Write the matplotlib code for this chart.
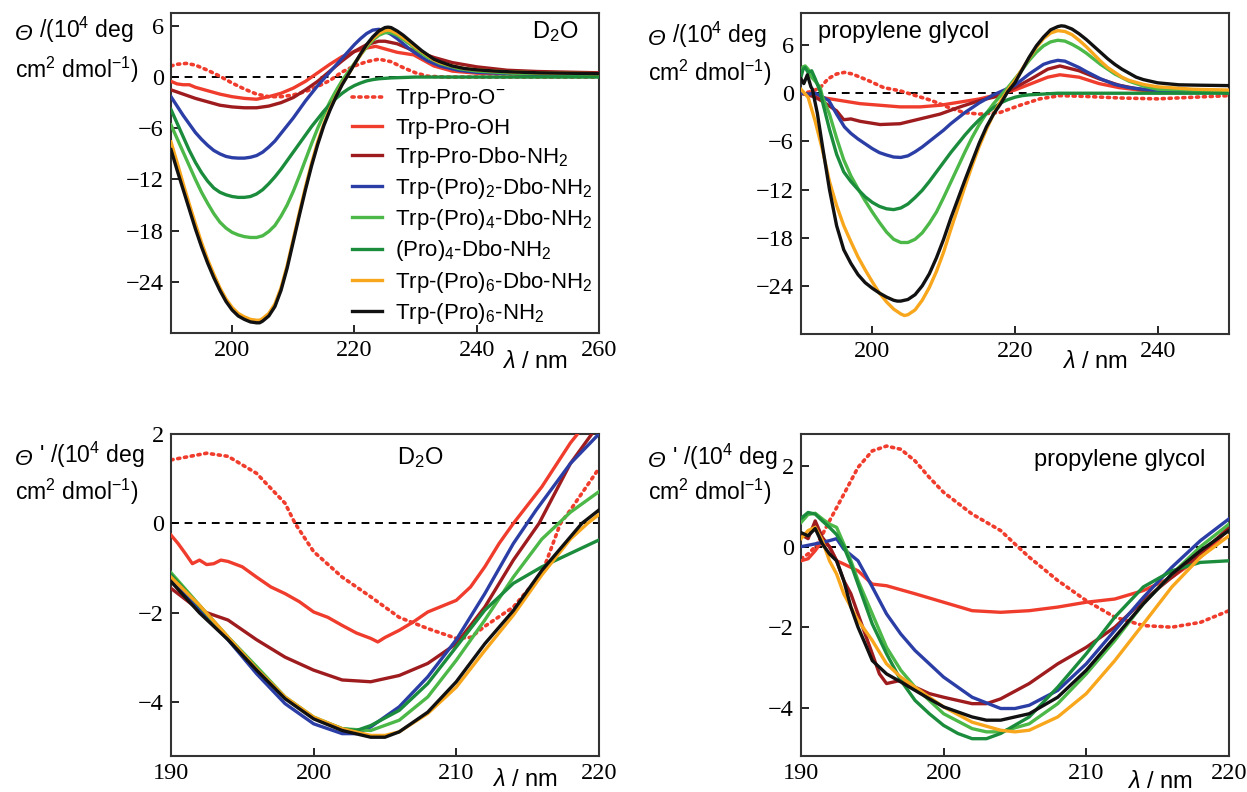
import numpy as np
import matplotlib
matplotlib.use("Agg")
import matplotlib.pyplot as plt

plt.rcParams['font.family'] = ['Liberation Sans', 'DejaVu Sans']
plt.rcParams['mathtext.fontset'] = 'custom'
plt.rcParams['mathtext.rm'] = 'Liberation Sans'
plt.rcParams['mathtext.it'] = 'Liberation Sans:italic'
plt.rcParams['mathtext.bf'] = 'Liberation Sans:bold'

# ---------------- series names / colours ----------------
labels = ['Trp-Pro-O$^{-}$', 'Trp-Pro-OH', 'Trp-Pro-Dbo-NH$_2$',
          'Trp-(Pro)$_2$-Dbo-NH$_2$', 'Trp-(Pro)$_4$-Dbo-NH$_2$',
          '(Pro)$_4$-Dbo-NH$_2$', 'Trp-(Pro)$_6$-Dbo-NH$_2$', 'Trp-(Pro)$_6$-NH$_2$']
colors = ['#f03c2c', '#f03c2c', '#9e1b1e', '#2b3ea6', '#4cb848',
          '#1b8c3c', '#f8a61c', '#111111']

# ---------------- top left: D2O, CD spectra ----------------
tl_dot_x = [190, 191, 192.5, 194, 196, 198, 200, 202, 204, 206, 208, 210, 212, 214, 216,
            218, 220, 222, 224, 226, 228, 230, 232, 235, 240, 250, 260]
tl_dot_y = [1.3, 1.5, 1.6, 1.4, 0.8, 0.1, -0.7, -1.4, -2.0, -2.3, -2.3, -2.1, -1.7, -1.1, -0.4,
            0.6, 1.3, 1.8, 2.1, 1.8, 1.1, 0.5, 0.1, 0.0, 0.0, 0.0, 0.0]
tl_red_x = [190, 191, 192, 193, 194, 196, 198, 200, 202, 204, 206, 208, 210, 212, 214, 216,
            218, 220, 222, 223.5, 225, 227, 229.7, 233, 236, 240, 250, 260]
tl_red_y = [-0.5, -0.8, -0.9, -0.9, -1.2, -1.6, -2.0, -2.3, -2.5, -2.6, -2.3, -1.9, -1.3, -0.5, 0.5, 1.5,
            2.4, 3.0, 3.4, 3.6, 3.3, 2.9, 2.6, 1.3, 0.7, 0.45, 0.3, 0.25]
tl_dred_x = [190, 192, 194, 196, 198, 200, 202, 204, 206, 208, 210, 212, 214, 216, 218, 220,
             222, 224, 225, 227, 229, 231, 233, 236, 240, 245, 250, 260]
tl_dred_y = [-1.5, -2.0, -2.5, -2.9, -3.3, -3.5, -3.6, -3.6, -3.4, -3.0, -2.4, -1.5, -0.5, 0.7, 1.9, 3.0,
             3.8, 4.2, 4.2, 3.9, 3.3, 2.8, 2.3, 1.7, 1.2, 0.8, 0.65, 0.5]
tl_blue_x = [190, 191, 192, 193, 194, 195, 196, 197, 198, 199, 200, 201, 202, 203, 204, 205, 206,
             207, 208, 209, 210, 211, 212, 213, 214, 215, 216, 217, 218, 219, 220, 221, 222, 223,
             224, 225, 226, 227, 228, 229, 230, 232, 234, 237, 240, 250, 260]
tl_blue_y = [-2.3, -3.4, -4.5, -5.5, -6.5, -7.3, -8.0, -8.6, -9.0, -9.3, -9.45, -9.5, -9.5, -9.4, -9.2, -8.8, -8.2,
             -7.5, -6.6, -5.7, -4.8, -3.8, -2.8, -1.9, -1.0, -0.2, 0.6, 1.4, 2.2, 3.0, 3.8, 4.5, 5.1, 5.5,
             5.6, 5.4, 5.0, 4.5, 3.9, 3.3, 2.8, 1.9, 1.3, 0.8, 0.55, 0.3, 0.2]
tl_lgreen_x = [190, 191, 192, 193, 194, 195, 196, 197, 198, 199, 200, 201, 202, 203, 204, 205, 206,
               207, 208, 209, 210, 211, 212, 213, 214, 215, 216, 217, 218, 219, 220, 221, 222, 223,
               224, 225, 226, 227, 228, 229, 230, 232, 234, 237, 240, 246, 260]
tl_lgreen_y = [-5.6, -7.2, -8.8, -10.4, -12.0, -13.5, -14.8, -16.0, -17.0, -17.7, -18.2, -18.5, -18.7, -18.8, -18.8,
               -18.6, -18.1, -17.4, -16.3, -15.0, -13.4, -11.6, -9.7, -7.8, -6.0, -4.4, -2.9, -1.6, -0.4, 0.6,
               1.6, 2.6, 3.5, 4.3, 4.9, 5.2, 5.2, 4.9, 4.4, 3.9, 3.3, 2.3, 1.6, 1.0, 0.7, 0.45, 0.3]
tl_dgreen_x = [190, 191, 192, 193, 194, 195, 196, 197, 198, 199, 200, 201, 202, 203, 204, 205, 206,
               207, 208, 209, 210, 211, 212, 213, 214, 215, 216, 217, 218, 219, 220, 221, 222, 223,
               224, 226, 228, 230, 260]
tl_dgreen_y = [-3.8, -5.4, -7.0, -8.6, -10.0, -11.2, -12.2, -13.0, -13.5, -13.8, -14.0, -14.1, -14.1, -14.0, -13.7,
               -13.2, -12.5, -11.7, -10.8, -9.8, -8.8, -7.8, -6.8, -5.8, -4.9, -4.0, -3.2, -2.5, -1.9, -1.4,
               -1.0, -0.7, -0.45, -0.3, -0.2, -0.1, -0.05, 0.0, 0.0]
tl_orange_x = [190, 191, 192, 193, 194, 195, 196, 197, 198, 199, 200, 201, 202, 203, 204, 204.5, 205,
               206, 207, 208, 209, 210, 211, 212, 213, 214, 215, 216, 217, 218, 219, 220, 221, 222,
               223, 224, 225, 225.5, 226, 227, 228, 229, 230, 231, 232, 233, 234, 236, 238, 240, 243,
               246, 250, 255, 260]
tl_orange_y = [-7.6, -10.0, -12.5, -14.9, -17.2, -19.4, -21.4, -23.1, -24.7, -26.0, -27.0, -27.7, -28.1, -28.4,
               -28.5, -28.5, -28.3, -27.7, -26.6, -24.7, -22.1, -19.0, -15.9, -12.9, -10.1, -7.6, -5.5, -3.7,
               -2.2, -0.8, 0.3, 1.5, 2.6, 3.7, 4.5, 5.1, 5.45, 5.5, 5.45, 5.1, 4.6, 4.1, 3.5, 3.0, 2.5, 2.0,
               1.7, 1.3, 1.0, 0.85, 0.7, 0.6, 0.5, 0.45, 0.4]
tl_black_x = [190, 191, 192, 193, 194, 195, 196, 197, 198, 199, 200, 201, 202, 203, 204, 204.5, 205,
              206, 207, 208, 209, 210, 211, 212, 213, 214, 215, 216, 217, 218, 219, 220, 221, 222,
              223, 224, 225, 225.5, 226, 227, 228, 229, 230, 231, 232, 233, 234, 236, 238, 240, 243,
              246, 250, 255, 260]
tl_black_y = [-8.5, -10.9, -13.2, -15.5, -17.8, -19.9, -21.8, -23.5, -25.0, -26.3, -27.3, -28.0, -28.4, -28.7,
              -28.8, -28.8, -28.6, -28.0, -26.9, -25.0, -22.4, -19.3, -16.2, -13.2, -10.4, -7.9, -5.7, -3.9,
              -2.3, -0.9, 0.3, 1.5, 2.7, 3.8, 4.7, 5.4, 5.8, 5.85, 5.8, 5.4, 4.9, 4.3, 3.7, 3.1, 2.6, 2.1,
              1.8, 1.3, 1.0, 0.85, 0.7, 0.6, 0.5, 0.45, 0.4]

# ---------------- top right: propylene glycol, CD spectra ----------------
tr_dot_x = [190, 191.5, 192.7, 193.8, 195, 196.1, 197.2, 199.4, 201.6, 203.9, 206.1, 208.3,
            210.5, 212.8, 215, 217.9, 220.7, 223.5, 226.3, 230, 235, 240, 245, 250]
tr_dot_y = [0.0, 0.2, 0.7, 1.8, 2.4, 2.6, 2.4, 1.6, 0.7, 0.3, -0.3, -0.9,
            -1.7, -2.4, -2.6, -2.4, -1.5, -0.7, -0.3, -0.4, -0.6, -0.7, -0.5, -0.3]
tr_red_x = [190, 192.7, 195.5, 198.3, 201.1, 203.9, 206.7, 209.5, 212.3, 215.1, 217.9, 220,
            222.3, 224.6, 226.3, 229, 231.8, 234.6, 237.4, 240, 250]
tr_red_y = [0.0, -0.5, -0.9, -1.3, -1.5, -1.7, -1.7, -1.5, -1.1, -0.7, -0.1, 0.4,
            1.2, 2.0, 2.3, 2.0, 1.2, 0.7, 0.4, 0.2, 0.1]
tr_dred_x = [190, 191, 192, 193, 194, 195, 196, 197, 198.3, 201.1, 203.9, 206.7, 209.5, 212.3,
             215.1, 217.9, 220, 222.3, 224.6, 226.3, 229, 231.8, 234.6, 237.4, 240, 250]
tr_dred_y = [0.0, -0.2, -0.5, -1.0, -1.6, -2.2, -3.3, -3.2, -3.5, -3.9, -3.8, -3.2, -2.6, -1.7,
             -0.9, -0.3, 0.7, 1.8, 3.0, 3.4, 2.8, 1.8, 1.0, 0.5, 0.3, 0.2]
tr_blue_x = [190, 191, 192, 192.7, 193.9, 195, 196.1, 197, 198, 199, 200, 201, 202, 203, 204, 205,
             206, 207, 208, 209, 210, 211, 212, 213, 214, 215, 216, 217, 218, 219, 220, 221, 222,
             223, 224, 225, 226, 227, 228, 229, 230, 232, 234, 236, 238, 240, 250]
tr_blue_y = [0.0, -0.1, 0.0, -0.3, -0.9, -2.6, -4.2, -5.0, -5.7, -6.3, -6.9, -7.4, -7.7, -7.95, -8.0, -7.8,
             -7.3, -6.7, -6.0, -5.3, -4.6, -3.8, -3.1, -2.4, -1.8, -1.2, -0.7, -0.2, 0.2, 0.6, 1.0, 1.7, 2.4,
             3.0, 3.6, 3.9, 4.1, 4.0, 3.6, 3.2, 2.7, 1.8, 1.1, 0.7, 0.5, 0.35, 0.25]
tr_lgreen_x = [190, 190.3, 190.6, 191, 191.5, 192, 192.7, 193, 194, 195, 196, 197, 198, 199, 200, 201,
               202, 203, 204, 205, 206, 207, 208, 209, 210, 211, 212, 213, 214, 215, 216, 217, 218,
               219, 220, 221, 222, 223, 224, 225, 226, 227, 228, 229, 230, 231, 232, 233, 234, 236,
               238, 240, 250]
tr_lgreen_y = [2.5, 3.3, 3.4, 3.0, 2.0, 1.5, 0.7, -0.4, -2.6, -5.6, -8.3, -10.3, -11.9, -13.4, -14.8, -16.1,
               -17.3, -18.2, -18.6, -18.6, -18.2, -17.4, -16.2, -14.8, -13.0, -11.1, -9.2, -7.3, -5.5, -3.9,
               -2.5, -1.3, -0.3, 0.7, 1.8, 2.9, 4.1, 5.1, 5.9, 6.4, 6.6, 6.5, 6.1, 5.6, 5.0, 4.3, 3.6, 3.0,
               2.4, 1.5, 0.9, 0.5, 0.25]
tr_dgreen_x = [190, 190.3, 190.6, 191, 191.5, 192, 192.7, 193, 194, 195, 196, 197, 198, 199, 200, 201,
               202, 203, 204, 205, 206, 207, 208, 209, 210, 211, 212, 213, 214, 215, 216, 217, 218,
               219, 220, 221, 222, 224, 226, 250]
tr_dgreen_y = [2.0, 3.0, 3.2, 2.6, 2.8, 1.8, 0.2, -1.0, -4.5, -7.6, -9.8, -11.0, -12.0, -12.9, -13.6, -14.1,
               -14.4, -14.5, -14.3, -13.8, -13.0, -12.1, -11.0, -9.8, -8.6, -7.4, -6.3, -5.2, -4.2, -3.3,
               -2.5, -1.8, -1.2, -0.8, -0.5, -0.3, -0.2, -0.1, 0.0, 0.0]
tr_orange_x = [190, 190.5, 191, 191.5, 192, 193, 194, 195, 196, 197, 198, 199, 200, 201, 202, 203,
               204, 204.5, 205, 206, 207, 208, 209, 210, 211, 212, 213, 214, 215, 216, 217, 218,
               219, 220, 221, 222, 223, 224, 225, 226, 227, 228, 229, 230, 231, 232, 233, 234,
               235, 236, 238, 240, 245, 250]
tr_orange_y = [0.5, 0.0, -0.5, -2.0, -3.5, -7.0, -11.0, -14.0, -16.5, -18.5, -20.4, -22.0, -23.5, -24.9, -26.0,
               -26.9, -27.5, -27.7, -27.6, -27.0, -25.8, -24.2, -22.2, -19.8, -17.0, -14.3, -11.6, -9.0,
               -6.6, -4.5, -2.6, -1.0, 0.4, 1.6, 3.0, 4.4, 5.7, 6.8, 7.5, 7.8, 7.7, 7.3, 6.6, 5.8, 4.9,
               4.0, 3.2, 2.6, 2.0, 1.6, 1.1, 0.8, 0.5, 0.4]
tr_black_x = [190, 190.4, 190.9, 191.4, 191.6, 192.3, 193, 194, 195, 196, 197, 198, 199, 200, 201,
              202, 203, 203.5, 204, 205, 206, 207, 208, 209, 210, 211, 212, 213, 214, 215, 216,
              217, 218, 219, 220, 221, 222, 223, 224, 225, 226, 226.5, 227, 228, 229, 230, 231,
              232, 233, 234, 235, 236, 237, 238, 240, 243, 246, 250]
tr_black_y = [1.8, 1.2, 2.3, 0.8, 0.5, -2.5, -6.5, -12.0, -16.5, -19.5, -21.2, -22.6, -23.6, -24.3, -24.9,
              -25.4, -25.8, -25.9, -25.9, -25.7, -25.1, -24.0, -22.5, -20.5, -18.2, -15.6, -13.2, -10.8,
              -8.5, -6.2, -4.2, -2.6, -1.3, 0.2, 1.3, 2.9, 4.5, 5.9, 7.0, 7.9, 8.3, 8.4, 8.35, 8.0, 7.4,
              6.7, 5.9, 5.1, 4.3, 3.6, 3.0, 2.5, 2.0, 1.7, 1.3, 1.05, 1.0, 0.95]

# ---------------- bottom left: D2O, normalised ----------------
bl_dot_x = [190, 192.5, 194, 196, 198, 198.7, 200, 202, 204, 206, 208, 210, 211, 212, 214, 216, 217.3, 218, 220]
bl_dot_y = [1.42, 1.57, 1.5, 1.12, 0.45, 0.0, -0.63, -1.2, -1.64, -2.1, -2.35, -2.57, -2.55, -2.3, -1.87, -1.12,
            0.0, 0.3, 1.23]
bl_red_x = [190, 190.5, 191, 191.5, 192, 192.5, 193, 193.5, 194, 195, 196, 197, 198, 199, 200, 201, 202,
            203, 204, 204.5, 205, 206, 207, 208, 209, 210, 211, 212, 213, 214, 216, 218, 218.5]
bl_red_y = [-0.26, -0.45, -0.67, -0.9, -0.82, -0.92, -0.9, -0.82, -0.85, -0.97, -1.2, -1.42, -1.57, -1.75, -1.98, -2.1,
            -2.28, -2.45, -2.57, -2.65, -2.55, -2.39, -2.2, -1.98, -1.85, -1.72, -1.42, -0.97, -0.45, 0.0, 0.82, 1.8, 2.0]
bl_dred_x = [190, 192, 194, 196, 198, 200, 202, 204, 206, 208, 210, 212, 214, 215.8, 218, 219.5]
bl_dred_y = [-1.45, -1.94, -2.16, -2.6, -2.99, -3.28, -3.5, -3.54, -3.4, -3.13, -2.69, -1.87, -0.82, 0.0, 1.34, 2.0]
bl_blue_x = [190, 192, 194, 196, 198, 200, 202, 203, 204, 206, 208, 210, 212, 214, 215.6, 218, 220]
bl_blue_y = [-1.25, -1.94, -2.6, -3.36, -4.03, -4.48, -4.7, -4.7, -4.55, -4.1, -3.43, -2.6, -1.57, -0.45, 0.3, 1.34, 2.0]
bl_lgreen_x = [190, 192, 194, 196, 198, 200, 202, 204, 206, 208, 210, 212, 214, 216, 218, 220]
bl_lgreen_y = [-1.1, -1.83, -2.54, -3.2, -3.88, -4.33, -4.59, -4.63, -4.4, -3.88, -3.06, -2.16, -1.2, -0.35, 0.25, 0.71]
bl_dgreen_x = [190, 192, 194, 196, 198, 200, 202, 203, 204, 206, 208, 210, 212, 214, 216, 218, 220]
bl_dgreen_y = [-1.15, -1.85, -2.55, -3.25, -3.9, -4.35, -4.59, -4.63, -4.52, -4.18, -3.58, -2.76, -1.94, -1.34, -0.97,
               -0.67, -0.37]
bl_orange_x = [190, 192, 194, 196, 198, 200, 202, 204, 205, 206, 208, 210, 212, 214, 216, 218, 219.2, 220]
bl_orange_y = [-1.2, -1.83, -2.54, -3.25, -3.88, -4.33, -4.59, -4.74, -4.74, -4.66, -4.25, -3.66, -2.84, -2.05, -1.15,
               -0.35, 0.0, 0.2]
bl_black_x = [190, 192, 194, 196, 198, 200, 202, 204, 205, 206, 208, 210, 212, 214, 216, 218, 218.8, 220]
bl_black_y = [-1.3, -2.0, -2.6, -3.28, -3.92, -4.37, -4.63, -4.78, -4.78, -4.66, -4.22, -3.54, -2.69, -1.95, -1.05,
              -0.3, 0.0, 0.3]

# ---------------- bottom right: propylene glycol, normalised ----------------
br_dot_x = [190, 190.5, 191, 191.5, 192, 193, 194, 195, 196, 197, 198, 199, 200, 202, 204, 205.2, 206, 208,
            210, 212, 214, 216, 218, 220]
br_dot_y = [-0.3, -0.18, 0.0, 0.3, 0.64, 1.3, 1.97, 2.38, 2.5, 2.42, 2.13, 1.72, 1.35, 0.81, 0.4, 0.0, -0.26, -0.84,
            -1.34, -1.75, -1.96, -2.0, -1.88, -1.59]
br_red_x = [190, 190.5, 191, 191.5, 192, 192.5, 193, 194, 195, 196, 198, 200, 202, 204, 206, 208, 210, 212,
            214, 216, 218, 219, 220]
br_red_y = [-0.35, -0.3, -0.1, 0.15, 0.0, -0.35, -0.43, -0.6, -0.93, -0.97, -1.17, -1.38, -1.59, -1.63, -1.59, -1.5,
            -1.38, -1.3, -1.09, -0.76, -0.26, 0.07, 0.45]
br_dred_x = [190, 190.5, 191, 191.5, 192, 192.5, 193, 193.5, 194, 194.5, 195, 195.5, 196, 197, 198, 199, 200,
             202, 203, 204, 206, 208, 210, 212, 214, 216, 218, 220]
br_dred_y = [0.3, 0.2, 0.64, 0.23, 0.0, -0.35, -0.84, -1.17, -1.67, -2.17, -2.66, -3.16, -3.4, -3.32, -3.49, -3.65,
             -3.74, -3.9, -3.9, -3.78, -3.4, -2.91, -2.5, -2.0, -1.34, -0.76, -0.18, 0.48]
br_blue_x = [190, 191, 192, 192.5, 193, 194, 195, 196, 197, 198, 199, 200, 202, 204, 205, 206, 208, 210, 212,
             214, 216, 218, 220]
br_blue_y = [0.0, 0.07, 0.15, 0.2, -0.06, -0.35, -1.0, -1.67, -2.17, -2.58, -2.91, -3.24, -3.74, -4.02, -4.02, -3.94,
             -3.57, -2.91, -2.08, -1.26, -0.51, 0.15, 0.69]
br_lgreen_x = [190, 190.5, 191, 191.5, 192, 192.5, 193, 193.5, 194, 195, 196, 197, 198, 199, 200, 202, 203,
               204, 206, 208, 210, 212, 214, 216, 218, 220]
br_lgreen_y = [0.6, 0.8, 0.83, 0.69, 0.56, 0.48, 0.07, -0.35, -0.84, -1.67, -2.5, -3.07, -3.49, -3.82, -4.15, -4.52,
               -4.6, -4.6, -4.4, -3.9, -3.16, -2.33, -1.42, -0.68, 0.0, 0.56]
br_dgreen_x = [190, 190.5, 191, 191.5, 192, 192.5, 193, 193.5, 194, 195, 196, 197, 198, 199, 200, 201, 202,
               203, 204, 206, 208, 210, 212, 214, 216, 218, 220]
br_dgreen_y = [0.7, 0.85, 0.81, 0.64, 0.48, 0.3, 0.0, -0.43, -0.93, -1.92, -2.66, -3.32, -3.82, -4.15, -4.44, -4.64,
               -4.77, -4.77, -4.64, -4.23, -3.49, -2.66, -1.75, -1.0, -0.6, -0.39, -0.35]
br_orange_x = [190, 190.5, 191, 191.5, 192, 192.5, 193, 193.5, 194, 195, 196, 197, 198, 199, 200, 202, 204,
               205, 206, 208, 210, 212, 214, 216, 218, 220]
br_orange_y = [0.2, 0.4, 0.48, 0.15, -0.35, -0.68, -1.17, -1.5, -1.83, -2.33, -2.91, -3.24, -3.49, -3.74, -3.98,
               -4.36, -4.56, -4.6, -4.56, -4.23, -3.65, -2.83, -1.92, -1.0, -0.26, 0.27]
br_black_x = [190, 190.5, 191, 191.5, 192, 192.5, 193, 193.5, 194, 194.5, 195, 196, 197, 198, 199, 200, 202,
              203, 204, 206, 208, 210, 212, 214, 216, 218, 220]
br_black_y = [0.35, 0.27, 0.45, 0.07, -0.18, -0.35, -0.84, -1.5, -2.0, -2.41, -2.83, -3.16, -3.36, -3.57, -3.78,
              -3.98, -4.23, -4.31, -4.31, -4.15, -3.74, -3.07, -2.25, -1.42, -0.68, -0.1, 0.4]

panels = [
    dict(rect=[0.1371, 0.5795, 0.3432, 0.4040], xlim=(190, 260), ylim=(-30, 7.5),
         xticks=[200, 220, 240, 260], yticks=[6, 0, -6, -12, -18, -24],
         data=[(tl_dot_x, tl_dot_y), (tl_red_x, tl_red_y), (tl_dred_x, tl_dred_y), (tl_blue_x, tl_blue_y),
               (tl_lgreen_x, tl_lgreen_y), (tl_dgreen_x, tl_dgreen_y), (tl_orange_x, tl_orange_y),
               (tl_black_x, tl_black_y)]),
    dict(rect=[0.6423, 0.5783, 0.3432, 0.4053], xlim=(190, 250), ylim=(-30, 10),
         xticks=[200, 220, 240], yticks=[6, 0, -6, -12, -18, -24],
         data=[(tr_dot_x, tr_dot_y), (tr_red_x, tr_red_y), (tr_dred_x, tr_dred_y), (tr_blue_x, tr_blue_y),
               (tr_lgreen_x, tr_lgreen_y), (tr_dgreen_x, tr_dgreen_y), (tr_orange_x, tr_orange_y),
               (tr_black_x, tr_black_y)]),
    dict(rect=[0.1371, 0.04545, 0.3432, 0.4066], xlim=(190, 220), ylim=(-5.2, 2),
         xticks=[190, 200, 210, 220], yticks=[2, 0, -2, -4],
         data=[(bl_dot_x, bl_dot_y), (bl_red_x, bl_red_y), (bl_dred_x, bl_dred_y), (bl_blue_x, bl_blue_y),
               (bl_lgreen_x, bl_lgreen_y), (bl_dgreen_x, bl_dgreen_y), (bl_orange_x, bl_orange_y),
               (bl_black_x, bl_black_y)]),
    dict(rect=[0.6423, 0.04545, 0.3432, 0.4066], xlim=(190, 220), ylim=(-5.2, 2.8),
         xticks=[190, 200, 210, 220], yticks=[2, 0, -2, -4],
         data=[(br_dot_x, br_dot_y), (br_red_x, br_red_y), (br_dred_x, br_dred_y), (br_blue_x, br_blue_y),
               (br_lgreen_x, br_lgreen_y), (br_dgreen_x, br_dgreen_y), (br_orange_x, br_orange_y),
               (br_black_x, br_black_y)]),
]

fig = plt.figure(figsize=(12.47, 7.92), dpi=100)
axes = []
for p in panels:
    ax = fig.add_axes(p['rect'])
    ax.axhline(0, color='black', lw=1.4, ls=(0, (4, 3)), zorder=1)
    for i, (x, y) in enumerate(p['data']):
        if i == 0:
            ax.plot(x, y, color=colors[i], lw=2.6, ls=(0, (0.6, 1.3)),
                    dash_capstyle='round', label=labels[i], zorder=2 + i)
        else:
            ax.plot(x, y, color=colors[i], lw=2.4, label=labels[i], zorder=2 + i,
                    solid_joinstyle='round')
    ax.set_xlim(*p['xlim'])
    ax.set_ylim(*p['ylim'])
    ax.set_xticks(p['xticks'])
    ax.set_yticks(p['yticks'])
    ax.tick_params(direction='in', length=6, width=1.2, labelsize=17.5, pad=5)
    for lbl in ax.get_xticklabels() + ax.get_yticklabels():
        lbl.set_fontfamily('Liberation Serif')
    for s in ax.spines.values():
        s.set_linewidth(1.5)
        s.set_color('#333333')
    axes.append(ax)

# legend in the first panel
axes[0].legend(loc='upper left', bbox_to_anchor=(0.423, 0.768), frameon=False,
               fontsize=16, handlelength=1.35, handletextpad=0.6, labelspacing=0.28,
               borderpad=0, borderaxespad=0)

# solvent annotations
fig.text(555 / 1247, 1 - 32 / 792, 'D$_2$O', fontsize=17, ha='center', va='center')
fig.text(818 / 1247, 1 - 32 / 792, 'propylene glycol', fontsize=17, ha='left', va='center')
fig.text(420 / 1247, 1 - 458 / 792, 'D$_2$O', fontsize=17, ha='center', va='center')
fig.text(1205 / 1247, 1 - 460 / 792, 'propylene glycol', fontsize=17, ha='right', va='center')

# y-axis labels (two lines, top left of each panel); italic theta drawn separately
ylab_pos = [(15, 40, 70, ''), (648, 45, 73, ''), (15, 465, 492, "'"), (648, 467, 492, "'")]
for ax, (x0, y1, y2, prime) in zip(axes, ylab_pos):
    th = fig.text(x0 / 1247, 1 - y1 / 792, 'Θ', fontsize=16.5, fontstyle='italic',
                  ha='left', va='baseline')
    rest = (' ' + prime + ' /(10$^4$ deg') if prime else ' /(10$^4$ deg'
    ax.annotate(rest, xy=(1, 0), xycoords=th, fontsize=16.5, ha='left', va='bottom',
                annotation_clip=False)
    fig.text(x0 / 1247, 1 - y2 / 792, r'cm$^2$ dmol$^{-1}$)', fontsize=16.5, ha='left', va='center')

# x-axis labels
for xc, yc in [(535, 362), (1095, 362), (525, 780), (1160, 782)]:
    fig.text(xc / 1247, 1 - yc / 792, r'$\mathit{\lambda}$ / nm', fontsize=17, ha='center', va='center')

fig.savefig('out.png', dpi=100)
